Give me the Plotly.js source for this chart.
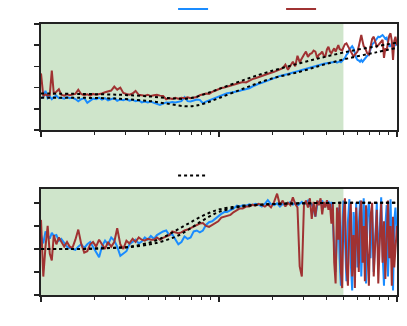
<!DOCTYPE html>
<html>
<head>
<meta charset="utf-8">
<script src="https://cdn.plot.ly/plotly-3.0.1.min.js"></script>
<style>
  html, body { margin: 0; padding: 0; background: #fff; }
  #chart { width: 407px; height: 326px; }
</style>
</head>
<body>
<div id="chart"></div>
<script>
// frequency grid shared by the measured series (log axis, 1..100)
const freq = [1.00,1.03,1.06,1.09,1.12,1.15,1.18,1.22,1.26,1.30,
  1.35,1.40,1.45,1.50,1.56,1.62,1.68,1.75,1.82,1.89,
  1.96,2.04,2.12,2.20,2.29,2.38,2.48,2.58,2.68,2.79,
  2.90,3.02,3.14,3.27,3.40,3.54,3.68,3.83,3.98,4.14,
  4.31,4.48,4.66,4.85,5.05,5.25,5.46,5.68,5.91,6.15,
  6.40,6.66,6.93,7.21,7.50,7.80,8.12,8.45,8.79,9.15,
  9.52,9.90,10.3,10.7,11.1,11.6,12.1,12.6,13.1,13.6,
  14.2,14.8,15.4,16.0,16.7,17.4,18.1,18.8,19.6,20.4,
  21.2,22.0,22.8,23.6,24.4,25.2,26.0,26.8,27.6,28.4,
  29.2,30.0,30.8,31.6,32.4,33.2,34.0,34.8,35.6,36.4,
  37.2,38.0,38.8,39.6,40.4,41.2,42.0,42.8,43.6,44.4,
  45.2,46.0,46.8,47.6,48.4,49.2,50.0,51,52,53,
  54,55,56,57,58,59,60,61,62,63,
  64,65,66,67,68,69.5,71,72.5,74,75.5,
  77,78.5,80,81.5,83,84.5,86,87.5,89,90.5,
  92,93.5,95,96.5,98,100];

// upper panel
const powerBlue = [1.50,1.55,1.85,1.50,1.58,1.45,1.55,1.62,1.50,1.52,
  1.48,1.55,1.50,1.53,1.46,1.35,1.45,1.50,1.28,1.40,
  1.48,1.45,1.52,1.43,1.50,1.40,1.45,1.50,1.38,1.44,
  1.40,1.46,1.38,1.42,1.36,1.40,1.30,1.34,1.30,1.34,
  1.28,1.22,1.18,1.24,1.30,1.28,1.32,1.30,1.34,1.36,
  1.55,1.36,1.34,1.40,1.44,1.42,1.26,1.34,1.40,1.45,
  1.50,1.56,1.62,1.68,1.73,1.76,1.78,1.81,1.85,1.89,
  1.92,1.97,2.05,2.12,2.18,2.22,2.28,2.34,2.40,2.44,
  2.50,2.55,2.58,2.60,2.64,2.68,2.72,2.75,2.78,2.80,
  2.83,2.86,2.90,2.92,2.95,2.97,3.00,3.02,3.04,3.06,
  3.08,3.10,3.12,3.13,3.15,3.16,3.18,3.19,3.20,3.21,
  3.22,3.18,3.22,3.24,3.20,3.26,3.28,3.40,3.55,3.62,
  3.80,3.90,3.95,3.85,3.60,3.40,3.30,3.28,3.22,3.30,
  3.22,3.30,3.40,3.46,3.50,3.55,3.80,4.05,4.10,4.20,
  4.25,4.40,4.38,4.45,4.48,4.40,4.30,4.35,4.10,3.95,
  3.95,4.10,4.05,3.95,4.05,4.00];

const powerRed = [2.67,1.60,1.68,1.62,1.65,2.80,1.72,1.80,1.92,1.66,
  1.62,1.68,1.64,1.66,1.70,1.90,1.70,1.64,1.68,1.62,
  1.70,1.66,1.68,1.72,1.78,1.82,1.86,2.05,1.90,2.00,
  1.75,1.70,1.66,1.72,1.84,1.66,1.64,1.62,1.66,1.60,
  1.64,1.66,1.62,1.60,1.45,1.50,1.46,1.52,1.48,1.52,
  1.50,1.54,1.50,1.52,1.55,1.64,1.68,1.72,1.70,1.80,
  1.85,1.92,1.98,2.00,2.04,2.10,2.14,2.18,2.24,2.26,
  2.24,2.34,2.40,2.44,2.50,2.56,2.60,2.64,2.70,2.74,
  2.82,2.86,2.92,3.08,2.84,3.05,3.22,3.00,3.50,3.20,
  3.40,3.55,3.70,3.45,3.58,3.62,3.75,3.70,3.40,3.55,
  3.60,3.70,3.50,3.48,3.80,3.93,3.70,3.62,3.75,3.85,
  3.70,3.90,4.00,3.82,3.77,3.75,3.90,4.05,4.09,3.95,
  3.85,3.70,3.55,3.46,3.55,3.62,3.70,3.95,4.25,4.48,
  4.20,3.95,3.90,3.75,3.62,3.55,3.90,4.30,4.40,4.10,
  3.93,4.00,4.09,4.15,4.25,3.40,3.85,3.77,4.10,4.45,
  4.56,4.20,3.30,4.20,4.40,4.00];

const fitFreqTop = [1, 1.66, 2.78, 4.1, 5.3, 6.44, 7.33, 8.35, 10.1, 14, 19.3, 28.5, 39.4, 54.5, 75.2, 100];
const powerFitRed = [1.72, 1.70, 1.66, 1.58, 1.50, 1.47, 1.55, 1.70, 1.95, 2.38, 2.76, 3.15, 3.45, 3.72, 3.94, 4.12];
const powerFitBlue = [1.52, 1.52, 1.47, 1.36, 1.22, 1.12, 1.14, 1.26, 1.52, 1.98, 2.40, 2.75, 3.10, 3.40, 3.65, 3.88];

// lower panel
const cohBlue = [0.30,0.12,0.38,0.30,0.22,0.35,0.28,0.30,0.18,0.22,
  0.12,0.05,0.02,0.00,-0.02,0.05,0.10,0.02,0.10,0.15,
  0.05,-0.08,-0.18,0.05,0.18,0.10,0.25,0.18,0.05,-0.15,
  -0.10,-0.05,0.10,0.15,0.20,0.12,0.16,0.25,0.20,0.28,
  0.22,0.30,0.34,0.38,0.40,0.30,0.32,0.22,0.10,0.15,
  0.27,0.22,0.25,0.38,0.40,0.36,0.40,0.52,0.58,0.60,
  0.66,0.72,0.76,0.80,0.80,0.84,0.88,0.94,0.92,0.95,
  0.94,0.97,0.95,0.98,0.96,0.92,0.98,1.06,0.97,0.95,
  0.99,0.92,0.98,0.95,0.99,1.02,0.96,1.00,0.94,0.98,
  1.02,0.96,1.00,1.05,0.92,0.98,0.85,0.70,0.95,1.02,
  0.98,1.05,0.90,1.00,0.95,1.04,0.88,1.02,0.60,0.10,
  -0.50,0.30,0.90,-0.20,-0.80,0.40,1.05,0.20,-0.70,0.60,
  1.08,-0.30,-0.90,0.80,0.10,1.00,-0.40,0.50,1.05,-0.60,
  0.20,1.10,0.00,-0.75,0.70,1.00,-0.20,0.85,-0.50,0.40,
  1.00,-0.30,0.60,1.12,-0.10,-0.80,0.50,0.95,-0.60,0.30,
  1.08,-0.20,-0.90,0.60,0.90,0.20];

const cohRed = [0.63,-0.60,0.05,0.50,-0.10,-0.25,0.30,0.10,0.25,0.15,
  0.05,0.15,0.05,0.02,0.20,0.42,0.12,-0.08,-0.05,0.10,
  0.15,0.05,0.20,0.10,0.00,0.15,0.05,0.15,0.45,0.10,
  0.00,0.18,0.12,0.22,0.15,0.25,0.20,0.18,0.22,0.20,
  0.20,0.25,0.20,0.24,0.27,0.30,0.38,0.36,0.34,0.36,
  0.40,0.42,0.45,0.48,0.52,0.55,0.56,0.50,0.48,0.52,
  0.56,0.60,0.68,0.70,0.72,0.74,0.80,0.85,0.88,0.88,
  0.92,0.92,0.96,0.94,0.98,0.95,0.92,0.97,0.90,1.02,
  1.20,0.95,1.05,0.92,1.00,0.95,1.12,0.98,0.90,-0.38,
  -0.60,0.95,1.05,0.90,1.10,0.65,1.02,0.70,1.05,0.95,
  1.10,0.75,1.02,0.90,1.06,0.85,0.98,0.55,1.00,-0.30,
  -0.75,0.90,0.20,1.02,-0.50,-0.85,0.70,1.10,-0.40,-0.80,
  0.50,1.00,-0.60,0.30,-0.85,0.90,0.20,-0.50,0.80,1.05,
  -0.30,0.50,-0.70,0.95,0.10,-0.80,0.70,1.00,-0.60,0.20,
  0.85,-0.75,0.40,1.00,-0.30,0.60,-0.65,0.20,1.05,-0.20,
  0.50,-0.80,0.70,-0.40,0.10,0.50];

const fitFreqBottom = [1, 1.66, 2.44, 3.16, 4.1, 4.66, 5.31, 6.04, 6.87, 7.82, 8.9, 10.1, 13.1, 17, 22, 28.5, 47.8, 100];
const cohFitA = [0, 0, 0.02, 0.05, 0.14, 0.22, 0.33, 0.45, 0.57, 0.69, 0.79, 0.86, 0.93, 0.96, 0.98, 0.99, 1.0, 1.0];
const cohFitB = [0, 0, 0.02, 0.04, 0.10, 0.15, 0.22, 0.31, 0.44, 0.58, 0.71, 0.81, 0.91, 0.96, 0.98, 0.99, 1.0, 1.0];

const shadeRange = [1, 50];

const COLORS = {
    blue: '#1a8cff',
    red: '#a03232',
    fit: '#000000',
    shade: '#cfe5cb',
    axis: '#222222'
};

function dataTrace(x, y, color, xa, ya, legendName) {
    return {
        x: x,
        y: y,
        type: 'scatter',
        mode: 'lines',
        line: {color: color, width: 2},
        xaxis: xa,
        yaxis: ya,
        name: '',
        showlegend: legendName !== null,
        legend: legendName || 'legend',
        hoverinfo: 'skip'
    };
}

function fitTrace(x, y, xa, ya, legendName) {
    return {
        x: x,
        y: y,
        type: 'scatter',
        mode: 'lines',
        line: {color: COLORS.fit, width: 2, dash: 'dot', shape: 'spline'},
        xaxis: xa,
        yaxis: ya,
        name: '',
        showlegend: legendName !== null,
        legend: legendName || 'legend',
        hoverinfo: 'skip'
    };
}

function logAxis(anchor) {
    return {
        type: 'log',
        range: [0, 2],
        dtick: 1,
        anchor: anchor,
        showline: true, mirror: true,
        linecolor: COLORS.axis, linewidth: 2,
        ticks: 'outside', ticklen: 5, tickwidth: 1.5, tickcolor: COLORS.axis,
        minor: {ticks: 'outside', ticklen: 3, tickwidth: 1, tickcolor: COLORS.axis, dtick: 'D1', showgrid: false},
        showticklabels: false,
        showgrid: false,
        zeroline: false
    };
}

function linAxis(anchor, domain, range, tick0, dtick) {
    return {
        anchor: anchor,
        domain: domain,
        range: range,
        tick0: tick0,
        dtick: dtick,
        showline: true, mirror: true,
        linecolor: COLORS.axis, linewidth: 2,
        ticks: 'outside', ticklen: 5, tickwidth: 1.5, tickcolor: COLORS.axis,
        showticklabels: false,
        showgrid: false,
        zeroline: false
    };
}

function shadeShape(xref, yref) {
    return {
        type: 'rect', layer: 'below',
        xref: xref, yref: yref + ' domain',
        x0: shadeRange[0], x1: shadeRange[1], y0: 0, y1: 1,
        fillcolor: COLORS.shade,
        line: {width: 0}
    };
}

const traces = [
    dataTrace(freq, powerBlue, COLORS.blue, 'x', 'y', 'legend'),
    dataTrace(freq, powerRed, COLORS.red, 'x', 'y', 'legend'),
    fitTrace(fitFreqTop, powerFitRed, 'x', 'y', null),
    fitTrace(fitFreqTop, powerFitBlue, 'x', 'y', null),
    dataTrace(freq, cohBlue, COLORS.blue, 'x2', 'y2', null),
    dataTrace(freq, cohRed, COLORS.red, 'x2', 'y2', null),
    fitTrace(fitFreqBottom, cohFitB, 'x2', 'y2', null),
    fitTrace(fitFreqBottom, cohFitA, 'x2', 'y2', 'legend2')
];

const legendStyle = {
    orientation: 'h',
    xanchor: 'left',
    yanchor: 'middle',
    entrywidth: 63,
    bgcolor: 'rgba(0,0,0,0)',
    font: {size: 10}
};

const layout = {
    width: 407,
    height: 326,
    margin: {l: 41, r: 10, t: 24, b: 31, autoexpand: false},
    paper_bgcolor: '#ffffff',
    plot_bgcolor: '#ffffff',
    font: {family: 'DejaVu Sans', size: 10, color: COLORS.axis},
    showlegend: true,
    legend: Object.assign({x: 0.371, y: 1.055}, legendStyle),
    legend2: Object.assign({x: 0.371, y: 0.4406}, legendStyle),
    xaxis: logAxis('y'),
    yaxis: linAxis('x', [0.609, 1], [0, 5], 0, 1),
    xaxis2: logAxis('y2'),
    yaxis2: linAxis('x2', [0, 0.391], [-1, 1.3], -1, 0.5),
    shapes: [shadeShape('x', 'y'), shadeShape('x2', 'y2')]
};

Plotly.newPlot('chart', traces, layout, {staticPlot: true, displayModeBar: false});
</script>
</body>
</html>
